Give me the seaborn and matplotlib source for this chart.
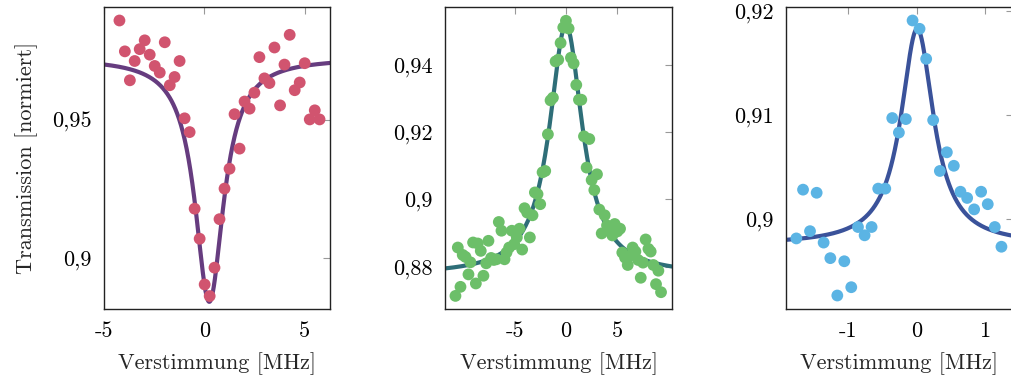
import numpy as np
import pandas as pd
import matplotlib.pyplot as plt
import seaborn as sns
from matplotlib.ticker import FuncFormatter, FixedLocator

x_dip = [-4.23, -3.96, -3.71, -3.47, -3.22, -2.97, -2.72, -2.47, -2.22, -1.97, -1.72,
         -1.48, -1.23, -0.98, -0.73, -0.48, -0.23, 0.02, 0.27, 0.51, 0.76, 1.01, 1.26,
         1.51, 1.76, 2.01, 2.26, 2.50, 2.75, 3.00, 3.25, 3.50, 3.78, 4.00, 4.26, 4.51,
         4.76, 5.01, 5.26, 5.51, 5.75]
y_dip = [0.9861, 0.9749, 0.9644, 0.9714, 0.9757, 0.9789, 0.9737, 0.9696, 0.9672, 0.9782,
         0.9626, 0.9656, 0.9714, 0.9506, 0.9456, 0.9178, 0.9069, 0.8903, 0.8861, 0.8964,
         0.9140, 0.9251, 0.9323, 0.9521, 0.9396, 0.9567, 0.9541, 0.9599, 0.9728, 0.9651,
         0.9634, 0.9763, 0.9553, 0.9701, 0.9809, 0.9608, 0.9636, 0.9706, 0.9502, 0.9535,
         0.9502]

x_wide = [-10.78, -10.55, -10.29, -10.07, -9.80, -9.51, -9.32, -9.06, -8.79, -8.60, -8.31,
          -8.05, -7.78, -7.56, -7.30, -7.04, -6.78, -6.55, -6.29, -5.99, -5.80, -5.54,
          -5.28, -5.05, -4.79, -4.53, -4.27, -4.04, -3.78, -3.52, -3.26, -3.03, -2.77,
          -2.51, -2.28, -2.02, -1.76, -1.50, -1.27, -1.01, -0.75, -0.52, -0.26, 0.00,
          0.26, 0.49, 0.75, 1.01, 1.27, 1.50, 1.76, 2.02, 2.28, 2.51, 2.77, 3.03, 3.26,
          3.49, 3.78, 4.01, 4.27, 4.53, 4.76, 5.02, 5.28, 5.50, 5.77, 6.03, 6.29, 6.51,
          6.78, 7.04, 7.30, 7.52, 7.78, 8.05, 8.27, 8.53, 8.79, 9.02, 9.28]
y_wide = [0.8713, 0.8857, 0.8740, 0.8835, 0.8829, 0.8777, 0.8813, 0.8872, 0.8750, 0.8869,
          0.8847, 0.8773, 0.8810, 0.8877, 0.8826, 0.8820, 0.8822, 0.8933, 0.8907, 0.8822,
          0.8842, 0.8857, 0.8907, 0.8867, 0.8887, 0.8913, 0.8851, 0.8974, 0.8961, 0.8887,
          0.8953, 0.9021, 0.9016, 0.8986, 0.9081, 0.9085, 0.9194, 0.9295, 0.9303, 0.9411,
          0.9416, 0.9466, 0.9512, 0.9532, 0.9509, 0.9422, 0.9405, 0.9341, 0.9297, 0.9297,
          0.9188, 0.9095, 0.9180, 0.9058, 0.9028, 0.9075, 0.8970, 0.8899, 0.8953, 0.8923,
          0.8911, 0.8893, 0.8927, 0.8905, 0.8913, 0.8842, 0.8827, 0.8805, 0.8833, 0.8857,
          0.8845, 0.8820, 0.8767, 0.8812, 0.8881, 0.8853, 0.8845, 0.8805, 0.8748, 0.8788,
          0.8724]

x_narrow = [-1.757, -1.659, -1.557, -1.460, -1.358, -1.260, -1.158, -1.056, -0.954, -0.856,
            -0.759, -0.657, -0.560, -0.457, -0.355, -0.258, -0.156, -0.058, 0.044, 0.141,
            0.243, 0.341, 0.443, 0.545, 0.642, 0.740, 0.842, 0.944, 1.041, 1.144, 1.241]
y_narrow = [0.8981, 0.9028, 0.8988, 0.9025, 0.8977, 0.8962, 0.8926, 0.8959, 0.8934, 0.8992,
            0.8984, 0.8992, 0.9029, 0.9029, 0.9097, 0.9083, 0.9096, 0.9191, 0.9183, 0.9154,
            0.9095, 0.9046, 0.9064, 0.9051, 0.9026, 0.9020, 0.9009, 0.9026, 0.9014, 0.8992,
            0.8973]

# Lorentz fit parameters (baseline, amplitude, centre, half width)
fit_dip = (0.9725, -0.0885, 0.25, 0.87)
fit_wide = (0.8775, 0.0745, 0.0, 1.95)
fit_narrow = (0.8975, 0.0208, 0.01, 0.29)

panels = [
    dict(x=x_dip, y=y_dip, fit=fit_dip, xlim=(-5.0, 6.27), ylim=(0.8814, 0.991),
         xticks=[-5, 0, 5], yticks=[0.9, 0.95], pt="#d1546f", ln="#663c7f",
         pos=[104, 226]),
    dict(x=x_wide, y=y_wide, fit=fit_wide, xlim=(-11.8, 10.35), ylim=(0.8674, 0.9573),
         xticks=[-5, 0, 5], yticks=[0.88, 0.9, 0.92, 0.94], pt="#6cbf69", ln="#2e6e78",
         pos=[445, 227]),
    dict(x=x_narrow, y=y_narrow, fit=fit_narrow, xlim=(-1.908, 1.41), ylim=(0.8913, 0.9204),
         xticks=[-1, 0, 1], yticks=[0.9, 0.91, 0.92], pt="#5bb4e4", ln="#3a529a",
         pos=[786, 227]),
]

sns.set_theme(style="white")
plt.rcParams['font.family'] = ['cmr10', 'DejaVu Serif']
plt.rcParams['axes.unicode_minus'] = False
plt.rcParams['axes.formatter.use_mathtext'] = True

W, H = 1011, 383
fig = plt.figure(figsize=(W / 100, H / 100), dpi=100)

comma = FuncFormatter(lambda v, p: f"{v:g}".replace('.', ','))

for i, p in enumerate(panels):
    left, width = p['pos']
    ax = fig.add_axes([left / W, (H - 309) / H, width / W, 302 / H])

    b, a, x0, g = p['fit']
    xf = np.linspace(p['xlim'][0], p['xlim'][1], 600)
    yf = b + a * g ** 2 / ((xf - x0) ** 2 + g ** 2)
    sns.lineplot(x=xf, y=yf, ax=ax, color=p['ln'], linewidth=3.0, zorder=2)

    df = pd.DataFrame({'x': p['x'], 'y': p['y']})
    sns.scatterplot(data=df, x='x', y='y', ax=ax, color=p['pt'], s=72,
                    edgecolor='none', linewidth=0, zorder=3, clip_on=False)

    ax.set_xlim(*p['xlim'])
    ax.set_ylim(*p['ylim'])
    ax.xaxis.set_major_locator(FixedLocator(p['xticks']))
    ax.yaxis.set_major_locator(FixedLocator(p['yticks']))
    ax.xaxis.set_major_formatter(comma)
    ax.yaxis.set_major_formatter(comma)
    ax.tick_params(direction='in', length=5, width=0.8, color='#999999',
                   top=True, right=True, labelsize=16, pad=9, labelcolor='black')
    for s in ax.spines.values():
        s.set_color('#222222')
        s.set_linewidth(1.0)

    ax.set_xlabel("Verstimmung [MHz]", fontsize=16, labelpad=8)
    if i == 0:
        ax.set_ylabel("Transmission [normiert]", fontsize=16, labelpad=10)
    else:
        ax.set_ylabel("")

fig.savefig("out.png", dpi=100)
